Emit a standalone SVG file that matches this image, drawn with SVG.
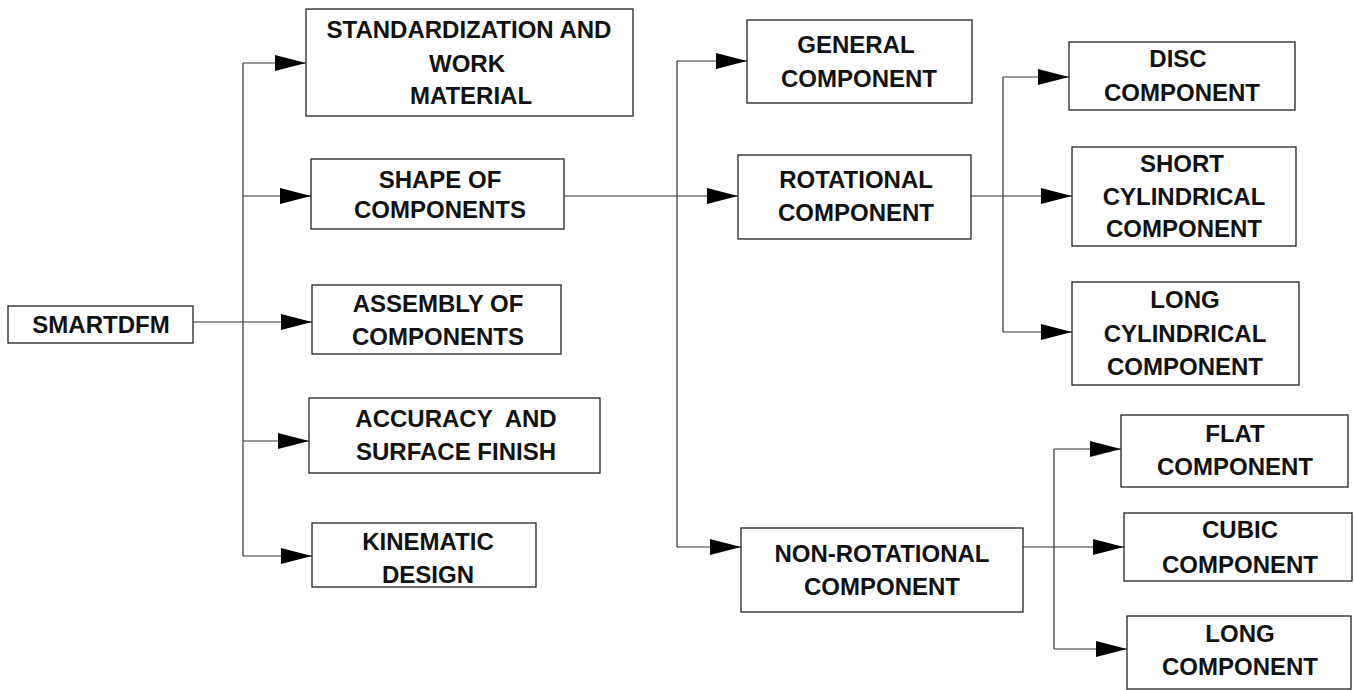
<svg xmlns="http://www.w3.org/2000/svg" width="1354" height="690" viewBox="0 0 1354 690">
<style>
.box{fill:#fff;stroke:#222;stroke-width:1.3}
.t{font-family:"Liberation Sans",Arial,sans-serif;font-size:24px;font-weight:bold;fill:#111;text-anchor:middle;white-space:pre}
.c{fill:none;stroke:#333;stroke-width:1.2}
.a{marker-end:url(#ah)}
</style>
<defs>
<marker id="ah" markerUnits="userSpaceOnUse" markerWidth="31" markerHeight="16" refX="31" refY="8" orient="auto">
<path d="M0,0 L31,8 L0,16 z" fill="#000"/>
</marker>
</defs>
<rect width="1354" height="690" fill="#fff"/>
<g id="connectors">
<path class="c a" d="M193,322 H312"/>
<path class="c" d="M243,63 V556"/>
<path class="c a" d="M243,63 H306"/>
<path class="c a" d="M243,196 H311"/>
<path class="c a" d="M243,441 H309"/>
<path class="c a" d="M243,556 H312"/>
<path class="c" d="M564,196 H677"/>
<path class="c" d="M677,61 V547"/>
<path class="c a" d="M677,61 H747"/>
<path class="c a" d="M677,196 H738"/>
<path class="c a" d="M677,547 H741"/>
<path class="c a" d="M971,196 H1072"/>
<path class="c" d="M1003,77 V332"/>
<path class="c a" d="M1003,77 H1069"/>
<path class="c a" d="M1003,332 H1072"/>
<path class="c a" d="M1023,547 H1124"/>
<path class="c" d="M1054,449 V649"/>
<path class="c a" d="M1054,449 H1121"/>
<path class="c a" d="M1054,649 H1127"/>
</g>
<g id="smartdfm"><rect class="box" x="8" y="306" width="185" height="37"/><text class="t" x="101" y="333">SMARTDFM</text></g>
<g id="standardization"><rect class="box" x="306" y="9" width="327" height="107"/><text class="t" x="469" y="38">STANDARDIZATION AND</text><text class="t" x="467" y="72">WORK</text><text class="t" x="471" y="104">MATERIAL</text></g>
<g id="shape"><rect class="box" x="311" y="159" width="253" height="70"/><text class="t" x="440" y="188">SHAPE OF</text><text class="t" x="440" y="218">COMPONENTS</text></g>
<g id="assembly"><rect class="box" x="312" y="285" width="249" height="69"/><text class="t" x="438" y="312">ASSEMBLY OF</text><text class="t" x="438" y="345">COMPONENTS</text></g>
<g id="accuracy"><rect class="box" x="309" y="398" width="291" height="75"/><text class="t" x="456" y="427">ACCURACY  AND</text><text class="t" x="456" y="460">SURFACE FINISH</text></g>
<g id="kinematic"><rect class="box" x="312" y="523" width="224" height="64"/><text class="t" x="428" y="550">KINEMATIC</text><text class="t" x="428" y="583">DESIGN</text></g>
<g id="general"><rect class="box" x="747" y="20" width="225" height="83"/><text class="t" x="856" y="53">GENERAL</text><text class="t" x="859" y="87">COMPONENT</text></g>
<g id="rotational"><rect class="box" x="738" y="155" width="233" height="84"/><text class="t" x="856" y="188">ROTATIONAL</text><text class="t" x="856" y="221">COMPONENT</text></g>
<g id="nonrotational"><rect class="box" x="741" y="528" width="282" height="84"/><text class="t" x="882" y="562">NON-ROTATIONAL</text><text class="t" x="882" y="595">COMPONENT</text></g>
<g id="disc"><rect class="box" x="1069" y="42" width="226" height="68"/><text class="t" x="1178" y="67">DISC</text><text class="t" x="1182" y="101">COMPONENT</text></g>
<g id="shortcyl"><rect class="box" x="1072" y="147" width="224" height="99"/><text class="t" x="1182" y="172">SHORT</text><text class="t" x="1184" y="205">CYLINDRICAL</text><text class="t" x="1184" y="237">COMPONENT</text></g>
<g id="longcyl"><rect class="box" x="1072" y="282" width="227" height="103"/><text class="t" x="1185" y="308">LONG</text><text class="t" x="1185" y="342">CYLINDRICAL</text><text class="t" x="1185" y="375">COMPONENT</text></g>
<g id="flat"><rect class="box" x="1121" y="415" width="227" height="72"/><text class="t" x="1235" y="442">FLAT</text><text class="t" x="1235" y="475">COMPONENT</text></g>
<g id="cubic"><rect class="box" x="1124" y="513" width="228" height="68"/><text class="t" x="1240" y="538">CUBIC</text><text class="t" x="1240" y="573">COMPONENT</text></g>
<g id="long"><rect class="box" x="1127" y="616" width="224" height="73"/><text class="t" x="1240" y="642">LONG</text><text class="t" x="1240" y="675">COMPONENT</text></g>
</svg>
